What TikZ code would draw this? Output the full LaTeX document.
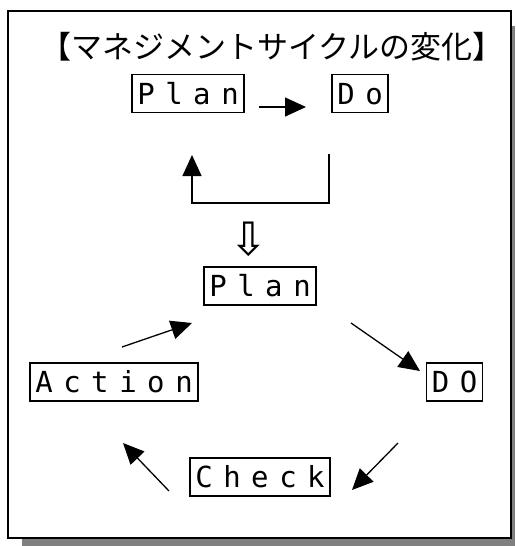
\documentclass[tikz,border=0pt]{standalone}
\usepackage{fontspec}
\setmonofont{DejaVu Sans Mono}
\newfontfamily\jpfont{Noto Sans CJK JP}
\newfontfamily\symfont{DejaVu Sans}
\usetikzlibrary{arrows.meta}
\definecolor{shadowgray}{RGB}{128,128,128}
\newcommand{\cl}[1]{\makebox[28pt]{#1}}
\tikzset{
  stagebox/.style={draw=black, line width=1.5pt, fill=white, inner xsep=0pt, inner ysep=0pt, minimum height=38pt, text height=21pt, text depth=0pt, font=\ttfamily\fontsize{29}{32}\selectfont},
  flowarrow/.style={line width=1.3pt, -{Triangle[length=21pt,width=19pt]}},
  titletext/.style={font=\jpfont\fontsize{31}{34}\selectfont, inner sep=0pt},
  changemark/.style={font=\symfont\fontsize{46}{46}\selectfont, inner sep=0pt}
}

\begin{document}
\begin{tikzpicture}[x=1pt,y=-1pt]
  \useasboundingbox (0,0) rectangle (515,546);
  % frame with shadow
  \fill[shadowgray] (22,26) rectangle (515,546);
  \draw[line width=2pt, fill=white] (7.5,11) rectangle (511,538);

  \node[titletext] (title) at (272,47) {【マネジメントサイクルの変化】};

  % old cycle: Plan -> Do and back
  \node[stagebox] (plan1) at (188,93.5) {\cl{P}\cl{l}\cl{a}\cl{n}};
  \node[stagebox] (do1) at (360,93.5) {\cl{D}\cl{o}};
  \coordinate (pd1) at (259,107);
  \coordinate (pd2) at (306,107);
  \draw[flowarrow] (pd1) -- (pd2);
  \coordinate (back1) at (329,154);
  \coordinate (back2) at (192,155);
  \draw[flowarrow] (back1) -- ++(0,49) -| (back2);

  \node[changemark] (change) at (249,239) {⇩};

  % new cycle: Plan -> DO -> Check -> Action
  \node[stagebox] (plan2) at (260,286) {\cl{P}\cl{l}\cl{a}\cl{n}};
  \node[stagebox] (do2) at (454.5,382) {\cl{D}\cl{O}};
  \node[stagebox] (check) at (260,477) {\cl{C}\cl{h}\cl{e}\cl{c}\cl{k}};
  \node[stagebox] (action) at (114,382) {\cl{A}\cl{c}\cl{t}\cl{i}\cl{o}\cl{n}};

  \coordinate (ap1) at (122,347);  \coordinate (ap2) at (192,323);
  \coordinate (pd3) at (351,323);  \coordinate (pd4) at (420,371);
  \coordinate (dc1) at (398,443);  \coordinate (dc2) at (352,490);
  \coordinate (ca1) at (169,491);  \coordinate (ca2) at (123,443);
  \draw[flowarrow] (ap1) -- (ap2);
  \draw[flowarrow] (pd3) -- (pd4);
  \draw[flowarrow] (dc1) -- (dc2);
  \draw[flowarrow] (ca1) -- (ca2);
\end{tikzpicture}
\end{document}
